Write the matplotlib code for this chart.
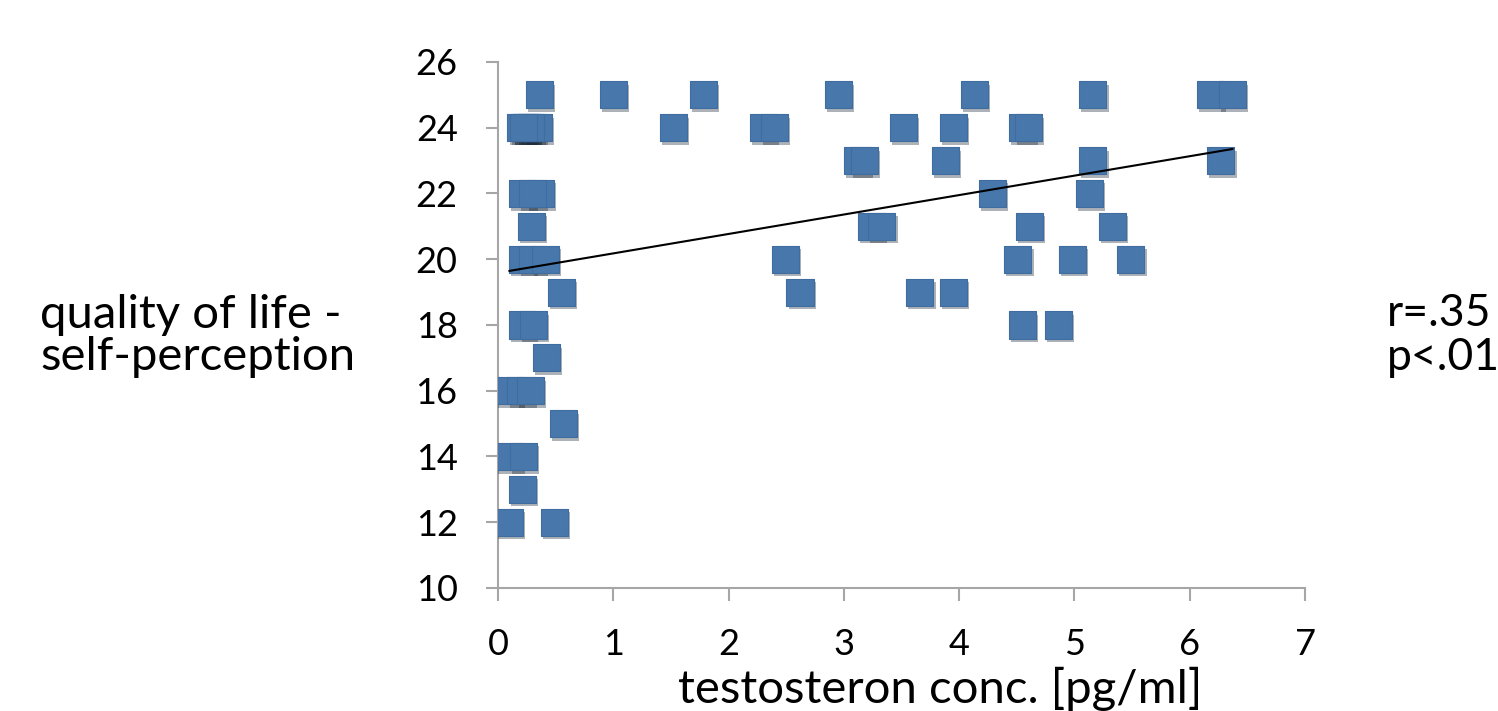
import numpy as np
import matplotlib.pyplot as plt
from matplotlib import patheffects

plt.rcParams['font.family'] = ['Lato', 'DejaVu Sans']

# testosterone conc. [pg/ml] vs. quality of life score
# (a few points near 0 lie on top of each other)
testo = [0.36, 0.20, 0.25, 0.30, 0.35, 0.25, 0.28, 0.22, 0.21, 0.37, 0.30,
         0.29, 0.21, 0.30, 0.41, 0.55, 0.21, 0.31, 0.42, 0.10, 0.20, 0.28,
         0.57, 0.10, 0.22, 0.21, 0.10, 0.49,
         1.00, 1.78, 2.95, 1.52, 2.30, 2.40, 3.52, 3.12, 3.18, 3.24, 3.33,
         2.49, 2.62, 3.66,
         4.13, 5.16, 6.18, 6.37, 3.95, 4.55, 4.60, 3.88, 5.16, 6.27, 4.29,
         5.13, 4.61, 5.33, 4.51, 4.98, 5.49, 3.95, 4.55, 4.86]
qol = [25, 24, 24, 24, 24, 24, 24, 24, 22, 22, 22,
       21, 20, 20, 20, 19, 18, 18, 17, 16, 16, 16,
       15, 14, 14, 13, 12, 12,
       25, 25, 25, 24, 24, 24, 24, 23, 23, 21, 21,
       20, 19, 19,
       25, 25, 25, 25, 24, 24, 24, 23, 23, 23, 22,
       22, 21, 21, 20, 20, 20, 19, 18, 18]

r_text = 'r=.35'
p_text = 'p<.01'
xlabel = 'testosteron conc. [pg/ml]'
ylabel = 'quality of life -\nself-perception'

fig = plt.figure(figsize=(14.98, 7.11), dpi=100)
ax = fig.add_axes([0.3324, 0.173, 0.5388, 0.7398])

sc = ax.scatter(testo, qol, marker='s', s=380, color='#4877ac',
                edgecolors='#406d9f', linewidths=0.8, zorder=3)
sc.set_path_effects([patheffects.SimplePatchShadow(offset=(1.5, -2.5), alpha=0.35),
                     patheffects.Normal()])

# linear trend line
k, d = np.polyfit(testo, qol, 1)
xs = np.array([min(testo), max(testo)])
ax.plot(xs, k * xs + d, color='black', lw=1.5, zorder=4)

ax.set_xlim(0, 7)
ax.set_ylim(10, 26)
ax.set_xticks(range(0, 8))
ax.set_yticks(range(10, 27, 2))
for s in ['top', 'right']:
    ax.spines[s].set_visible(False)
for s in ['left', 'bottom']:
    ax.spines[s].set_color('#a6a6a6')
    ax.spines[s].set_linewidth(1.5)
ax.tick_params(axis='both', colors='#a6a6a6', width=1.5, length=9,
               labelcolor='black', labelsize=26)
ax.tick_params(axis='y', pad=20)
ax.tick_params(axis='x', pad=20)

fig.text(940 / 1498, 1 - 689 / 711, xlabel, fontsize=34, ha='center', va='center')
fig.text(40 / 1498, 1 - 336 / 711, ylabel, fontsize=34, ha='left', va='center',
         linespacing=0.98)
fig.text(1387 / 1498, 1 - 314 / 711, r_text, fontsize=32, ha='left', va='center')
fig.text(1387 / 1498, 1 - 358 / 711, p_text, fontsize=32, ha='left', va='center')

fig.savefig('out.png', dpi=100)
